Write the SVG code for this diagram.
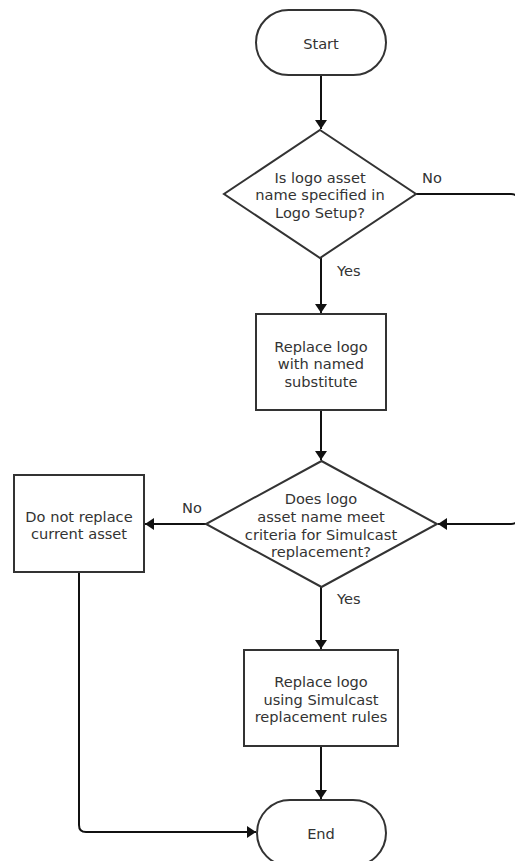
<svg xmlns="http://www.w3.org/2000/svg" width="515" height="861" viewBox="0 0 515 861">
<style>
.s{fill:#fff;stroke:#333;stroke-width:2}
.c{fill:none;stroke:#111;stroke-width:2}
text{font-family:"DejaVu Sans","Verdana",sans-serif;font-size:14.6px;fill:#333;text-anchor:middle}
.l{text-anchor:start}
</style>
<defs>
<marker id="a" viewBox="0 0 9 12" refX="9" refY="6" markerWidth="4.5" markerHeight="6" orient="auto" markerUnits="strokeWidth">
<path d="M0,0L9,6L0,12z" fill="#111"/>
</marker>
</defs>
<g id="connectors">
<path class="c" d="M321,75V129" marker-end="url(#a)"/>
<path class="c" d="M321,258V313" marker-end="url(#a)"/>
<path class="c" d="M321,410V460" marker-end="url(#a)"/>
<path class="c" d="M206,524H145" marker-end="url(#a)"/>
<path class="c" d="M321,587V649" marker-end="url(#a)"/>
<path class="c" d="M321,746V799" marker-end="url(#a)"/>
<path class="c" d="M416,194H511Q518,194 518,201V517Q518,524 511,524H438" marker-end="url(#a)"/>
<path class="c" d="M79,572V825Q79,832 86,832H256" marker-end="url(#a)"/>
<text class="l" x="422" y="183">No</text>
<text class="l" x="337" y="276">Yes</text>
<text class="l" x="182" y="513">No</text>
<text class="l" x="337" y="604">Yes</text>
</g>
<g id="start">
<rect class="s" x="256" y="10" width="130" height="65" rx="32.5"/>
<text x="321" y="49">Start</text>
</g>
<g id="decision1">
<path class="s" d="M320,130L416,194L320,258L224,194z"/>
<text x="320" y="183">Is logo asset</text>
<text x="320" y="200">name specified in</text>
<text x="320" y="218">Logo Setup?</text>
</g>
<g id="replace1">
<rect class="s" x="256" y="314" width="130" height="96"/>
<text x="321" y="352">Replace logo</text>
<text x="321" y="369">with named</text>
<text x="321" y="387"> substitute</text>
</g>
<g id="decision2">
<path class="s" d="M321.5,461L437,524L321.5,587L206,524z"/>
<text x="321" y="504">Does logo</text>
<text x="321" y="522">asset name meet</text>
<text x="321" y="540">criteria for Simulcast</text>
<text x="321" y="557">replacement?</text>
</g>
<g id="donot">
<rect class="s" x="14" y="475" width="130" height="97"/>
<text x="79" y="522">Do not replace</text>
<text x="79" y="539">current asset</text>
</g>
<g id="replace2">
<rect class="s" x="244" y="650" width="154" height="96"/>
<text x="321" y="687">Replace logo</text>
<text x="321" y="705">using Simulcast</text>
<text x="321" y="722">replacement rules</text>
</g>
<g id="end">
<rect class="s" x="257" y="800" width="129" height="66" rx="33"/>
<text x="321" y="839">End</text>
</g>
</svg>
